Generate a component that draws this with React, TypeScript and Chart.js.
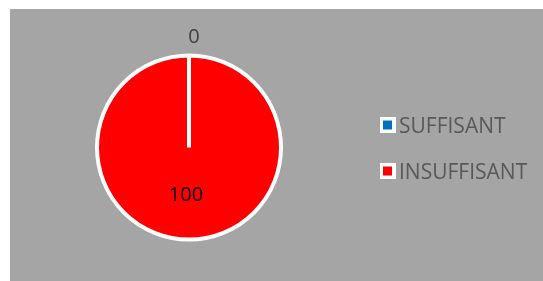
import React, { useEffect, useRef } from "react";
import { Chart, registerables } from "chart.js";

Chart.register(...registerables);

const categories = ["SUFFISANT", "INSUFFISANT"];
const values = [0, 100];
const sliceColors = ["#0070C0", "#FF0000"];
const labelColors = ["#404040", "#000000"];

const BG = "#A5A5A5";
const FONT = "'Open Sans', 'Liberation Sans', sans-serif";

const bgPlugin = {
  id: "bgRect",
  beforeDraw(chart: any) {
    const ctx = chart.ctx;
    ctx.save();
    ctx.fillStyle = "#FFFFFF";
    ctx.fillRect(0, 0, chart.width, chart.height);
    ctx.fillStyle = BG;
    ctx.fillRect(10, 9, chart.width - 10, chart.height - 9);
    ctx.restore();
  },
};

const labelPlugin = {
  id: "sliceLabels",
  afterDatasetsDraw(chart: any) {
    const ctx = chart.ctx;
    const meta = chart.getDatasetMeta(0);
    const data = chart.data.datasets[0].data as number[];
    ctx.save();
    ctx.font = `20px ${FONT}`;
    ctx.textAlign = "center";
    ctx.textBaseline = "alphabetic";
    meta.data.forEach((arc: any, i: number) => {
      const { x, y, startAngle, endAngle, outerRadius } = arc.getProps(
        ["x", "y", "startAngle", "endAngle", "outerRadius"],
        true
      );
      const mid = (startAngle + endAngle) / 2;
      const v = data[i];
      let r: number;
      let dx: number;
      if (v === 0) {
        r = outerRadius + 20;
        dx = 5;
      } else {
        r = outerRadius * 0.5;
        dx = -3;
      }
      const px = x + Math.cos(mid) * r + dx;
      const py = y + Math.sin(mid) * r + 7;
      ctx.fillStyle = labelColors[i];
      ctx.fillText(String(v), px, py);
    });
    ctx.restore();
  },
};

const legendPlugin = {
  id: "customLegend",
  afterDraw(chart: any) {
    const ctx = chart.ctx;
    const labels = chart.data.labels as string[];
    const colors = chart.data.datasets[0].backgroundColor as string[];
    const startY = 125;
    const gap = 46;
    ctx.save();
    ctx.font = `21px ${FONT}`;
    ctx.textAlign = "left";
    ctx.textBaseline = "alphabetic";
    labels.forEach((lab, i) => {
      const cy = startY + i * gap;
      ctx.fillStyle = "#FFFFFF";
      ctx.fillRect(380, cy - 8, 16, 16);
      ctx.fillStyle = colors[i];
      ctx.fillRect(383, cy - 4.5, 9, 9);
      ctx.fillStyle = "#595959";
      ctx.fillText(lab, 399, cy + 8);
    });
    ctx.restore();
  },
};

export default function App() {
  const ref = useRef<HTMLCanvasElement | null>(null);
  useEffect(() => {
    document.body.style.margin = "0";
    const chart = new Chart(ref.current as HTMLCanvasElement, {
      type: "pie",
      data: {
        labels: categories,
        datasets: [
          {
            data: values,
            backgroundColor: sliceColors,
            borderColor: "#FFFFFF",
            borderWidth: 4,
          },
        ],
      },
      options: {
        animation: false,
        responsive: false,
        rotation: 0,
        layout: { padding: { left: 95, right: 260, top: 53.5, bottom: 39.5 } },
        plugins: {
          legend: { display: false },
          tooltip: { enabled: false },
        },
      },
      plugins: [bgPlugin, labelPlugin, legendPlugin],
    });
    return () => chart.destroy();
  }, []);
  return (
    <div style={{ width: 543, height: 281 }}>
      <canvas ref={ref} width={543} height={281} style={{ display: "block" }} />
    </div>
  );
}
